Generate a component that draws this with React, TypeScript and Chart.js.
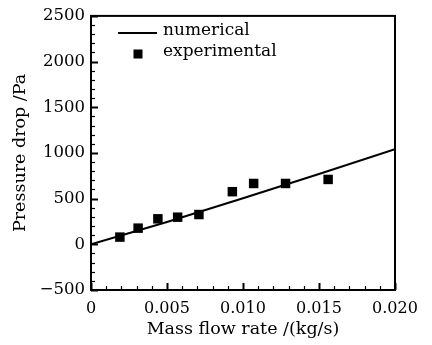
import React, { useEffect, useRef } from "react";
import { Chart, registerables } from "chart.js";

Chart.register(...registerables);

// Experimental data
const massFlow = [0.0019, 0.0031, 0.0044, 0.0057, 0.0071, 0.0093, 0.0107, 0.0128, 0.0156];
const pressureExp = [79, 177, 279, 297, 326, 576, 666, 666, 710];

// Numerical curve
const numFlow = [0, 0.005, 0.01, 0.015, 0.02];
const numPressure = [0, 245, 505, 770, 1040];

const xTickLabels = ["0", "0.005", "0.010", "0.015", "0.020"];
const legendLabels = ["numerical", "experimental"];

const FONT = "'DejaVu Serif', serif";

const framePlugin = {
  id: "frameTicks",
  afterDatasetsDraw(chart: any) {
    const { ctx, chartArea } = chart;
    const { left, right, top, bottom } = chartArea;
    const xs = chart.scales.x;
    const ys = chart.scales.y;
    ctx.save();
    ctx.strokeStyle = "#000";
    for (let i = 0; i <= 20; i++) {
      const v = i * 0.001;
      const px = Math.round(xs.getPixelForValue(v)) + 0.5;
      const len = i % 5 === 0 ? 7 : 4;
      ctx.lineWidth = i % 5 === 0 ? 2 : 1.2;
      ctx.beginPath();
      ctx.moveTo(px, bottom);
      ctx.lineTo(px, bottom - len);
      ctx.stroke();
    }
    for (let i = -5; i <= 25; i++) {
      const v = i * 100;
      const py = Math.round(ys.getPixelForValue(v)) + 0.5;
      const len = i % 5 === 0 ? 7 : 4;
      ctx.lineWidth = i % 5 === 0 ? 2 : 1.2;
      ctx.beginPath();
      ctx.moveTo(left, py);
      ctx.lineTo(left + len, py);
      ctx.stroke();
    }
    ctx.lineWidth = 2;
    ctx.strokeRect(left, top, right - left, bottom - top);
    // legend
    ctx.fillStyle = "#000";
    ctx.font = "17px " + FONT;
    ctx.textBaseline = "middle";
    ctx.textAlign = "left";
    ctx.lineWidth = 2;
    ctx.beginPath();
    ctx.moveTo(118, 33);
    ctx.lineTo(157, 33);
    ctx.stroke();
    ctx.fillText(legendLabels[0], 163, 31);
    ctx.fillRect(133.5, 49.5, 9, 9);
    ctx.fillText(legendLabels[1], 163, 52);
    ctx.restore();
  },
};

export default function App() {
  const ref = useRef<HTMLCanvasElement>(null);
  useEffect(() => {
    if (!ref.current) return;
    const chart = new Chart(ref.current, {
      type: "scatter",
      data: {
        datasets: [
          {
            label: legendLabels[0],
            data: numFlow.map((x, i) => ({ x, y: numPressure[i] })),
            showLine: true,
            borderColor: "#000",
            borderWidth: 2,
            pointRadius: 0,
            fill: false,
          },
          {
            label: legendLabels[1],
            data: massFlow.map((x, i) => ({ x, y: pressureExp[i] })),
            showLine: false,
            pointStyle: "rect",
            pointRadius: 6.7,
            backgroundColor: "#000",
            borderColor: "#000",
            borderWidth: 0,
          },
        ],
      },
      options: {
        responsive: false,
        animation: false,
        layout: { padding: { top: 14, right: 37, left: 0, bottom: 0 } },
        plugins: { legend: { display: false }, tooltip: { enabled: false } },
        scales: {
          x: {
            type: "linear",
            min: 0,
            max: 0.02,
            afterBuildTicks: (s: any) => {
              s.ticks = numFlow.map((v) => ({ value: v }));
            },
            afterFit: (s: any) => {
              s.height = 55;
            },
            ticks: {
              color: "#000",
              font: { family: FONT, size: 16 },
              padding: 9,
              maxRotation: 0,
              callback: (v: any, i: number) => xTickLabels[i],
            },
            grid: { display: false, drawTicks: false },
            border: { display: false },
            title: {
              display: true,
              text: "Mass flow rate /(kg/s)",
              color: "#000",
              font: { family: FONT, size: 17.5 },
              padding: { top: 0, bottom: 5 },
            },
          },
          y: {
            type: "linear",
            min: -500,
            max: 2500,
            ticks: {
              stepSize: 500,
              color: "#000",
              font: { family: FONT, size: 16.5 },
              padding: 6,
              callback: (v: any) => (v < 0 ? "\u2212" + Math.abs(v) : String(v)),
            },
            afterFit: (s: any) => {
              s.width = 91;
            },
            grid: { display: false, drawTicks: false },
            border: { display: false },
            title: {
              display: true,
              text: "Pressure drop /Pa",
              color: "#000",
              font: { family: FONT, size: 17.5 },
              padding: { top: 10, bottom: 0 },
            },
          },
        },
      },
      plugins: [framePlugin],
    });
    return () => chart.destroy();
  }, []);
  return (
    <div style={{ position: "absolute", left: 0, top: 0, width: 432, height: 345, background: "#fff" }}>
      <canvas ref={ref} width={432} height={345} />
    </div>
  );
}
